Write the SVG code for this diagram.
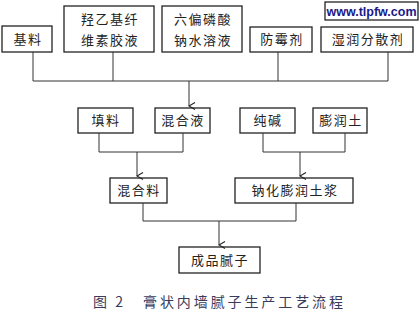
<svg xmlns="http://www.w3.org/2000/svg" width="420" height="317" viewBox="0 0 420 317">
<defs>
<marker id="arr" markerWidth="10" markerHeight="10" refX="5" refY="9" orient="auto" markerUnits="userSpaceOnUse" viewBox="0 0 10 10">
<path d="M1.5,3 L5,9 L8.5,3" fill="none" stroke="#222" stroke-width="1.1"/>
</marker>
</defs>
<style>
.box{fill:#fff;stroke:#222;stroke-width:1.3}
.t{font-family:"Noto Sans CJK SC","Noto Sans",sans-serif;font-size:13px;fill:#222;text-anchor:middle;letter-spacing:1.5px}
.c{fill:none;stroke:#333;stroke-width:1}
.cap{font-family:"Noto Sans CJK SC",sans-serif;font-size:14px;fill:#3a3a5a}
</style>
<rect width="420" height="317" fill="#fff"/>
<g id="n-jiliao"><rect class="box" x="2" y="26" width="50" height="26"/><text class="t" x="28" y="44">基料</text></g>
<g id="n-qiangyi"><rect class="box" x="64" y="6" width="90" height="46"/><text class="t" x="110" y="24">羟乙基纤</text><text class="t" x="110" y="45">维素胶液</text></g>
<g id="n-liupian"><rect class="box" x="162" y="6" width="80" height="46"/><text class="t" x="203" y="24">六偏磷酸</text><text class="t" x="203" y="45">钠水溶液</text></g>
<g id="n-fangmei"><rect class="box" x="250" y="27" width="62" height="25"/><text class="t" x="282" y="44">防霉剂</text></g>
<g id="n-shirun"><rect class="box" x="321" y="27" width="92" height="25"/><text class="t" x="368" y="44">湿润分散剂</text></g>
<g id="watermark"><rect x="325" y="2" width="93" height="18" fill="#fff" stroke="#111" stroke-width="1.2"/><text x="371.5" y="16" font-family="Liberation Sans,Arial,sans-serif" font-size="12.5" font-weight="bold" fill="#1a1a8a" text-anchor="middle">www.tlpfw.com</text></g>
<g id="n-tianliao"><rect class="box" x="78" y="108" width="55" height="25"/><text class="t" x="106" y="125">填料</text></g>
<g id="n-hunheye"><rect class="box" x="155" y="108" width="55" height="25"/><text class="t" x="183" y="125">混合液</text></g>
<g id="n-chunjian"><rect class="box" x="240" y="108" width="55" height="25"/><text class="t" x="268" y="125">纯碱</text></g>
<g id="n-pengruntu"><rect class="box" x="313" y="108" width="54" height="25"/><text class="t" x="341" y="125">膨润土</text></g>
<g id="n-hunheliao"><rect class="box" x="110" y="178" width="57" height="25"/><text class="t" x="139" y="195">混合料</text></g>
<g id="n-nahua"><rect class="box" x="235" y="178" width="118" height="25"/><text class="t" x="295" y="195">钠化膨润土浆</text></g>
<g id="n-chengpin"><rect class="box" x="179" y="247" width="81" height="26"/><text class="t" x="220" y="265">成品腻子</text></g>
<g id="connectors">
<path class="c" d="M33,52 V81 M113,52 V81 M278,52 V81 M388,52 V81 M33,81 H388"/>
<path class="c" d="M189,81 V106" marker-end="url(#arr)"/>
<path class="c" d="M99,133 V152 M183,133 V152 M99,152 H183"/>
<path class="c" d="M137,152 V176" marker-end="url(#arr)"/>
<path class="c" d="M263,133 V152 M345,133 V152 M263,152 H345"/>
<path class="c" d="M300,152 V176" marker-end="url(#arr)"/>
<path class="c" d="M143,203 V221 M296,203 V221 M143,221 H296"/>
<path class="c" d="M219,221 V245" marker-end="url(#arr)"/>
</g>
<text class="cap" x="93" y="307" textLength="30" lengthAdjust="spacing">图2</text>
<text class="cap" x="143" y="307" textLength="200" lengthAdjust="spacing">膏状内墙腻子生产工艺流程</text>
</svg>
